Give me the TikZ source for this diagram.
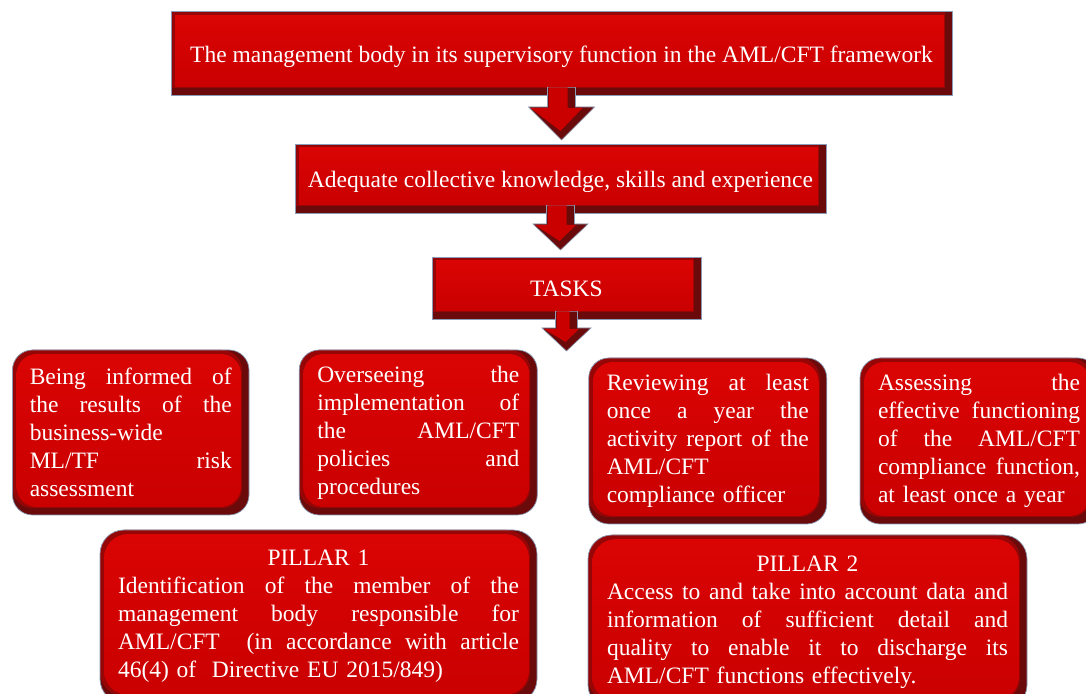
\documentclass[tikz,border=0pt]{standalone}
\usepackage{fontspec}
\setmainfont{Liberation Serif}
\usetikzlibrary{calc}
\definecolor{mred}{HTML}{CA0000}
\definecolor{tred}{HTML}{DA0404}
\definecolor{lred}{HTML}{960606}
\definecolor{dred}{HTML}{6A0A0A}
\definecolor{edgec}{HTML}{8A9BB5}
\newcommand\J[1]{\leavevmode\hbox to\hsize{\spaceskip=0.25em plus 1fil\relax #1}}
\newcommand\C[1]{\leavevmode\hbox to\hsize{\hfil #1\hfil}}
\tikzset{
  txt/.style={text=white, font=\fontsize{23.5}{28}\selectfont},
  bev/.style={txt, draw=edgec, line width=0.7pt, fill=dred, rounded corners=#1, inner sep=0pt,
    path picture={
      \fill[lred, rounded corners=#1] (path picture bounding box.north west) rectangle ([shift={(-7pt,7pt)}]path picture bounding box.south east);
      \fill[top color=tred, bottom color=mred, rounded corners=#1] ([shift={(4pt,-4pt)}]path picture bounding box.north west) rectangle ([shift={(-8pt,8pt)}]path picture bounding box.south east);
    }},
  rectbox/.style={bev=0pt, text height=22pt, text depth=4pt},
  taskbox/.style={bev=20pt, text width=202pt, align=left, minimum width=238pt, minimum height=166pt},
  pillarbox/.style={bev=24pt, text width=401pt, align=left, minimum width=438pt, minimum height=174pt},
  arrowbase/.style={fill=dred, draw=edgec, line width=0.6pt},
  arrowface/.style={fill=mred},
}
\newcommand\barrow[5]{%
  \draw[arrowbase] let \p1=(#1.south), \p2=(#2) in
    (\x1-#3,\y1+8pt) -- (\x1+#3,\y1+8pt) -- (\x1+#3,\y2+#5) -- (\x1+#4,\y2+#5) -- (\x1,\y2)
    -- (\x1-#4,\y2+#5) -- (\x1-#3,\y2+#5) -- cycle;
  \fill[arrowface] let \p1=(#1.south), \p2=(#2) in
    (\x1-#3+1pt,\y1+8pt) -- (\x1+#3-8pt,\y1+8pt) -- (\x1+#3-8pt,\y2+#5-1pt) -- (\x1+#4-12pt,\y2+#5-1pt) -- (\x1-1pt,\y2+9pt)
    -- (\x1-#4+2pt,\y2+#5-1pt) -- (\x1-#3+1pt,\y2+#5-1pt) -- cycle;
}
\begin{document}
\begin{tikzpicture}[x=1pt,y=1pt]
\useasboundingbox (0,0) rectangle (1086,693);
\fill[white] (0,0) rectangle (1086,693);
\clip (0,0) rectangle (1086,693);

\node[rectbox, minimum width=781pt, minimum height=83.5pt] (b1) at (561.5,639.75)
  {The management body in its supervisory function in the AML/CFT framework};
\node[rectbox, minimum width=531pt, minimum height=69pt] (b2) at (560.5,514.5)
  {Adequate collective knowledge, skills and experience};
\node[rectbox, minimum width=269pt, minimum height=62pt] (b3) at (566.5,405)
  {TASKS};

\node[taskbox, minimum width=236.5pt, minimum height=165pt] (ta) at (130.75,260.5)
  {\J{Being informed of}\\\J{the results of the}\\business-wide\\\J{ML/TF risk}\\assessment};
\node[taskbox, minimum height=165pt] (tb) at (418.25,260.5)
  {\J{Overseeing the}\\\J{implementation of}\\\J{the AML/CFT}\\\J{policies and}\\procedures};
\node[taskbox] (tc) at (707.75,252)
  {\J{Reviewing at least}\\\J{once a year the}\\\J{activity report of the}\\AML/CFT\\compliance officer};
\node[taskbox] (td) at (979,252)
  {\J{Assessing the}\\\J{effective functioning}\\\J{of the AML/CFT}\\\J{compliance function,}\\at least once a year};

\node[pillarbox, minimum width=437pt, minimum height=173pt] (p1) at (318.5,76.5)
  {\C{PILLAR 1}\\\J{Identification of the member of the}\\\J{management body responsible for}\\\J{AML/CFT\ \ (in accordance with article}\\46(4) of\ \ Directive EU 2015/849)};
\node[pillarbox, minimum width=439pt] (p2) at (807.5,71)
  {\C{PILLAR 2}\\\J{Access to and take into account data and}\\\J{information of sufficient detail and}\\\J{quality to enable it to discharge its}\\AML/CFT functions effectively.};

\coordinate (t1) at (562,553);
\coordinate (t2) at (560,443);
\coordinate (t3) at (566,342);
\barrow{b1}{t1}{14pt}{33pt}{33pt}
\barrow{b2}{t2}{14pt}{27.5pt}{26pt}
\barrow{b3}{t3}{11pt}{24.5pt}{23pt}
\end{tikzpicture}
\end{document}
